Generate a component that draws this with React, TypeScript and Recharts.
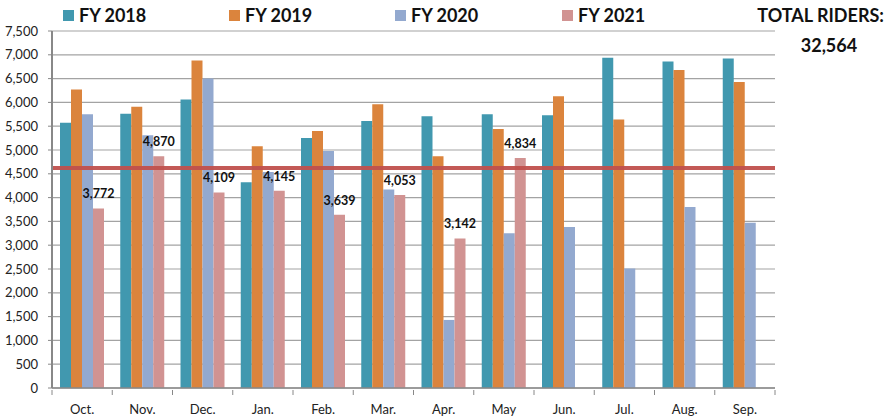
import { BarChart, Bar, XAxis, YAxis, CartesianGrid, Legend, LabelList, ReferenceLine } from 'recharts'

const MONTHS = ['Oct.', 'Nov.', 'Dec.', 'Jan.', 'Feb.', 'Mar.', 'Apr.', 'May', 'Jun.', 'Jul.', 'Aug.', 'Sep.']
const FY2018 = [5570, 5760, 6060, 4320, 5250, 5610, 5710, 5750, 5730, 6940, 6860, 6920]
const FY2019 = [6270, 5910, 6880, 5080, 5400, 5960, 4870, 5440, 6130, 5640, 6680, 6430]
const FY2020 = [5750, 5310, 6500, 4540, 4980, 4170, 1430, 3250, 3380, 2510, 3800, 3470]
const FY2021 = [3772, 4870, 4109, 4145, 3639, 4053, 3142, 4834, null, null, null, null]
const Y_TICKS = [0, 500, 1000, 1500, 2000, 2500, 3000, 3500, 4000, 4500, 5000, 5500, 6000, 6500, 7000, 7500]
const TARGET_LINE = 4620
const TOTAL_RIDERS = '32,564'

const COLORS = {
  fy2018: '#4198AF',
  fy2019: '#DB843D',
  fy2020: '#93A9CF',
  fy2021: '#D19392',
}

const FONT = 'Lato, "Open Sans", sans-serif'
const W = 885
const H = 417
const PLOT_LEFT = 52
const PLOT_RIGHT = 775
const BAND = (PLOT_RIGHT - PLOT_LEFT) / MONTHS.length

const data = MONTHS.map((month, i) => ({
  month,
  fy2018: FY2018[i],
  fy2019: FY2019[i],
  fy2020: FY2020[i],
  fy2021: FY2021[i],
}))

const fmt = (v: number) => v.toLocaleString('en-US')

// x ticks: label at the category centre, tick marks on the category boundaries
function MonthTick(props: any) {
  const { x, y, payload, index } = props
  const left = x - BAND / 2
  const right = x + BAND / 2
  return (
    <g>
      <line x1={left} x2={left} y1={y} y2={y + 5} stroke="#888" strokeWidth={1} />
      {index === MONTHS.length - 1 && (
        <line x1={right} x2={right} y1={y} y2={y + 5} stroke="#888" strokeWidth={1} />
      )}
      <text x={x} y={y + 24} textAnchor="middle" fontSize={13} fontFamily={FONT} fill="#222">
        {payload.value}
      </text>
    </g>
  )
}

const LEGEND_X = [63, 229, 395, 562]

// legend is drawn with zero height so it does not push the plot down
function TopLegend({ payload }: any) {
  return (
    <div style={{ position: 'relative', width: W, height: 0 }}>
      {(payload || []).map((p: any, i: number) => (
        <div
          key={p.value}
          style={{
            position: 'absolute',
            left: LEGEND_X[i],
            top: 4,
            display: 'flex',
            alignItems: 'center',
            fontFamily: FONT,
            fontWeight: 700,
            fontSize: 18,
            color: '#111',
            whiteSpace: 'nowrap',
          }}
        >
          <span style={{ width: 11, height: 11, background: p.color, marginRight: 5, display: 'inline-block' }} />
          {p.value}
        </div>
      ))}
    </div>
  )
}

export default function App() {
  return (
    <div style={{ position: 'absolute', left: 0, top: 0, width: W, height: H, background: '#fff' }}>
      <BarChart
        width={W}
        height={H}
        data={data}
        margin={{ top: 31, right: W - PLOT_RIGHT, left: 0, bottom: 0 }}
        barGap={0}
        barSize={11}
      >
        <CartesianGrid vertical={false} stroke="#a3a3a3" strokeWidth={1.2} />
        <XAxis
          dataKey="month"
          height={29}
          interval={0}
          tickLine={false}
          tickSize={0}
          axisLine={{ stroke: '#888', strokeWidth: 1.5 }}
          tick={<MonthTick />}
        />
        <YAxis
          width={PLOT_LEFT}
          domain={[0, 7500]}
          ticks={Y_TICKS}
          interval={0}
          tickFormatter={fmt}
          tickSize={4}
          tickMargin={10}
          tickLine={{ stroke: '#888' }}
          axisLine={{ stroke: '#888', strokeWidth: 2 }}
          tick={{ fontSize: 13, fontFamily: FONT, fill: '#222' }}
        />
        <Legend
          verticalAlign="top"
          align="left"
          height={0}
          wrapperStyle={{ top: 0, left: 0, height: 0 }}
          content={<TopLegend />}
        />
        <Bar dataKey="fy2018" name="FY 2018" fill={COLORS.fy2018} isAnimationActive={false} />
        <Bar dataKey="fy2019" name="FY 2019" fill={COLORS.fy2019} isAnimationActive={false} />
        <Bar dataKey="fy2020" name="FY 2020" fill={COLORS.fy2020} isAnimationActive={false} />
        <Bar dataKey="fy2021" name="FY 2021" fill={COLORS.fy2021} isAnimationActive={false}>
          <LabelList
            dataKey="fy2021"
            position="top"
            offset={10}
            formatter={(v: any) => (v == null ? '' : fmt(v))}
            style={{ fontSize: 12.5, fontWeight: 700, fontFamily: FONT, fill: '#111' }}
          />
        </Bar>
        <ReferenceLine y={TARGET_LINE} stroke="#C0504D" strokeWidth={4} strokeOpacity={0.95} />
      </BarChart>
      <div
        style={{
          position: 'absolute',
          right: 1,
          top: 4,
          fontFamily: FONT,
          fontWeight: 700,
          fontSize: 18,
          color: '#111',
          whiteSpace: 'nowrap',
        }}
      >
        TOTAL RIDERS:
      </div>
      <div
        style={{
          position: 'absolute',
          left: 776,
          width: 106,
          textAlign: 'center',
          top: 34,
          fontFamily: FONT,
          fontWeight: 700,
          fontSize: 18,
          color: '#111',
        }}
      >
        {TOTAL_RIDERS}
      </div>
    </div>
  )
}
